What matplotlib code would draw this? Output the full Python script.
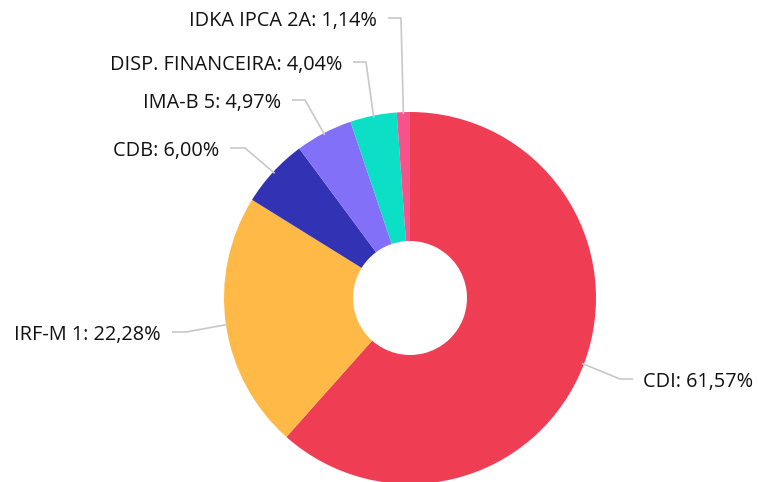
import matplotlib.pyplot as plt
import numpy as np

plt.rcParams['font.family'] = ['Open Sans', 'DejaVu Sans']

# data
labels = ['CDI', 'IRF-M 1', 'CDB', 'IMA-B 5', 'DISP. FINANCEIRA', 'IDKA IPCA 2A']
values = [61.57, 22.28, 6.00, 4.97, 4.04, 1.14]
colors = ['#EF3D54', '#FFB946', '#3232B4', '#8370F9', '#0BDFC6', '#F7528A']

# label layout (pixel coords): elbow point, end of leader line
elbows = [(620, 379), (186, 332), (245, 148), (305, 100), (366, 62), (401, 18)]
ends = [(633, 379), (172, 332), (230, 148), (292, 100), (353, 62), (388, 18)]

W, H = 758, 482
fig = plt.figure(figsize=(W / 100, H / 100), dpi=100)
ax = fig.add_axes([0, 0, 1, 1])
ax.set_xlim(0, W)
ax.set_ylim(0, H)
ax.set_aspect('equal')
ax.axis('off')

cx, cy = 410, H - 298
R, r_in = 186, 57

ax.pie(values, colors=colors, startangle=90, counterclock=False,
       center=(cx, cy), radius=R, frame=True,
       wedgeprops=dict(width=R - r_in, linewidth=0))
ax.set_xlim(0, W)
ax.set_ylim(0, H)
ax.axis('off')

# leader lines + labels
total = sum(values)
start = 90.0
for lab, v, el, en in zip(labels, values, elbows, ends):
    mid = start - v / total * 360 / 2
    start -= v / total * 360
    a = np.deg2rad(mid)
    px, py = cx + (R - 2) * np.cos(a), cy + (R - 2) * np.sin(a)
    xs = [px, el[0], en[0]]
    ys = [py, H - el[1], H - en[1]]
    ax.plot(xs, ys, color='#c8c8c8', lw=1.2, solid_capstyle='butt')
    txt = lab + ': ' + f'{v:.2f}'.replace('.', ',') + '%'
    if en[0] > cx:
        ax.text(en[0] + 10, H - en[1] - 3, txt, ha='left', va='center', fontsize=14.3, color='#111111')
    else:
        ax.text(en[0] - 11, H - en[1] - 3, txt, ha='right', va='center', fontsize=14.3, color='#111111')

fig.savefig('out.png', dpi=100)
